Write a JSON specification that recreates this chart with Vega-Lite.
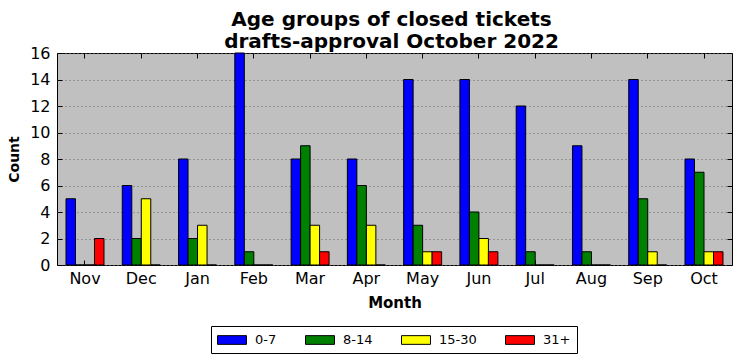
{
  "$schema": "https://vega.github.io/schema/vega-lite/v6.json",
  "width": 675,
  "height": 212,
  "autosize": {"type": "none"},
  "padding": {"left": 57, "top": 53, "right": 9, "bottom": 96},
  "background": "white",
  "config": {
    "font": "DejaVu Sans",
    "view": {"fill": "#c0c0c0", "stroke": "black", "strokeWidth": 1},
    "axis": {"domain": false, "labelColor": "black", "tickColor": "black", "titleColor": "black", "labelFont": "DejaVu Sans", "titleFont": "DejaVu Sans"}
  },
  "title": {
    "text": ["Age groups of closed tickets", "drafts-approval October 2022"],
    "fontSize": 20,
    "fontWeight": "bold",
    "font": "DejaVu Sans",
    "color": "black",
    "lineHeight": 22,
    "offset": -7,
    "anchor": "middle",
    "dx": -3
  },
  "data": {
    "values": [
      {"month": "Nov", "age": "0-7", "count": 5}, {"month": "Nov", "age": "8-14", "count": 0}, {"month": "Nov", "age": "15-30", "count": 0}, {"month": "Nov", "age": "31+", "count": 2},
      {"month": "Dec", "age": "0-7", "count": 6}, {"month": "Dec", "age": "8-14", "count": 2}, {"month": "Dec", "age": "15-30", "count": 5}, {"month": "Dec", "age": "31+", "count": 0},
      {"month": "Jan", "age": "0-7", "count": 8}, {"month": "Jan", "age": "8-14", "count": 2}, {"month": "Jan", "age": "15-30", "count": 3}, {"month": "Jan", "age": "31+", "count": 0},
      {"month": "Feb", "age": "0-7", "count": 16}, {"month": "Feb", "age": "8-14", "count": 1}, {"month": "Feb", "age": "15-30", "count": 0}, {"month": "Feb", "age": "31+", "count": 0},
      {"month": "Mar", "age": "0-7", "count": 8}, {"month": "Mar", "age": "8-14", "count": 9}, {"month": "Mar", "age": "15-30", "count": 3}, {"month": "Mar", "age": "31+", "count": 1},
      {"month": "Apr", "age": "0-7", "count": 8}, {"month": "Apr", "age": "8-14", "count": 6}, {"month": "Apr", "age": "15-30", "count": 3}, {"month": "Apr", "age": "31+", "count": 0},
      {"month": "May", "age": "0-7", "count": 14}, {"month": "May", "age": "8-14", "count": 3}, {"month": "May", "age": "15-30", "count": 1}, {"month": "May", "age": "31+", "count": 1},
      {"month": "Jun", "age": "0-7", "count": 14}, {"month": "Jun", "age": "8-14", "count": 4}, {"month": "Jun", "age": "15-30", "count": 2}, {"month": "Jun", "age": "31+", "count": 1},
      {"month": "Jul", "age": "0-7", "count": 12}, {"month": "Jul", "age": "8-14", "count": 1}, {"month": "Jul", "age": "15-30", "count": 0}, {"month": "Jul", "age": "31+", "count": 0},
      {"month": "Aug", "age": "0-7", "count": 9}, {"month": "Aug", "age": "8-14", "count": 1}, {"month": "Aug", "age": "15-30", "count": 0}, {"month": "Aug", "age": "31+", "count": 0},
      {"month": "Sep", "age": "0-7", "count": 14}, {"month": "Sep", "age": "8-14", "count": 5}, {"month": "Sep", "age": "15-30", "count": 1}, {"month": "Sep", "age": "31+", "count": 0},
      {"month": "Oct", "age": "0-7", "count": 8}, {"month": "Oct", "age": "8-14", "count": 7}, {"month": "Oct", "age": "15-30", "count": 1}, {"month": "Oct", "age": "31+", "count": 1}
    ]
  },
  "layer": [
    {
      "mark": {"type": "bar", "stroke": "black", "strokeWidth": 1},
      "encoding": {
        "x": {
          "field": "month", "type": "nominal",
          "sort": ["Nov", "Dec", "Jan", "Feb", "Mar", "Apr", "May", "Jun", "Jul", "Aug", "Sep", "Oct"],
          "scale": {"paddingInner": 0.325, "paddingOuter": 0.16},
          "axis": {"orient": "bottom", "title": "Month", "titleFontSize": 15, "titleFontWeight": "bold", "titlePadding": 9, "labelFontSize": 16, "labelAngle": 0, "labelPadding": 10, "ticks": true, "tickSize": -5, "grid": false}
        },
        "xOffset": {
          "field": "age", "type": "nominal",
          "sort": ["0-7", "8-14", "15-30", "31+"],
          "scale": {"paddingInner": 0, "paddingOuter": 0}
        },
        "y": {
          "field": "count", "type": "quantitative",
          "scale": {"domain": [0, 16], "nice": false},
          "axis": {"orient": "left", "title": "Count", "titleFontSize": 14, "titleFontWeight": "bold", "titlePadding": 8, "labelFontSize": 16, "labelPadding": 12, "values": [0, 2, 4, 6, 8, 10, 12, 14, 16], "ticks": true, "tickSize": -5, "grid": true, "gridColor": "#666666", "gridDash": [1, 3], "gridWidth": 1}
        },
        "color": {
          "field": "age", "type": "nominal",
          "scale": {"domain": ["0-7", "8-14", "15-30", "31+"], "range": ["#0000ff", "#008000", "#ffff00", "#ff0000"]},
          "legend": {
            "title": null, "orient": "none", "direction": "horizontal", "legendX": 154, "legendY": 273,
            "symbolType": "M-2,-0.6H2V0.6H-2Z", "symbolSize": 210, "symbolOffset": 7, "symbolStrokeColor": "black", "symbolStrokeWidth": 1,
            "labelFontSize": 13, "labelColor": "black", "labelOffset": 15, "columnPadding": 26,
            "strokeColor": "black", "fillColor": "white", "padding": 6
          }
        }
      }
    },
    {
      "mark": {"type": "point", "opacity": 0},
      "encoding": {
        "x": {
          "field": "month", "type": "nominal",
          "sort": ["Nov", "Dec", "Jan", "Feb", "Mar", "Apr", "May", "Jun", "Jul", "Aug", "Sep", "Oct"],
          "axis": {"orient": "top", "title": null, "labels": false, "ticks": true, "tickSize": -5, "grid": false}
        },
        "y": {
          "field": "count", "type": "quantitative",
          "axis": {"orient": "right", "title": null, "labels": false, "values": [0, 2, 4, 6, 8, 10, 12, 14, 16], "ticks": true, "tickSize": -5, "grid": false}
        }
      }
    }
  ],
  "resolve": {"axis": {"x": "independent", "y": "independent"}}
}
